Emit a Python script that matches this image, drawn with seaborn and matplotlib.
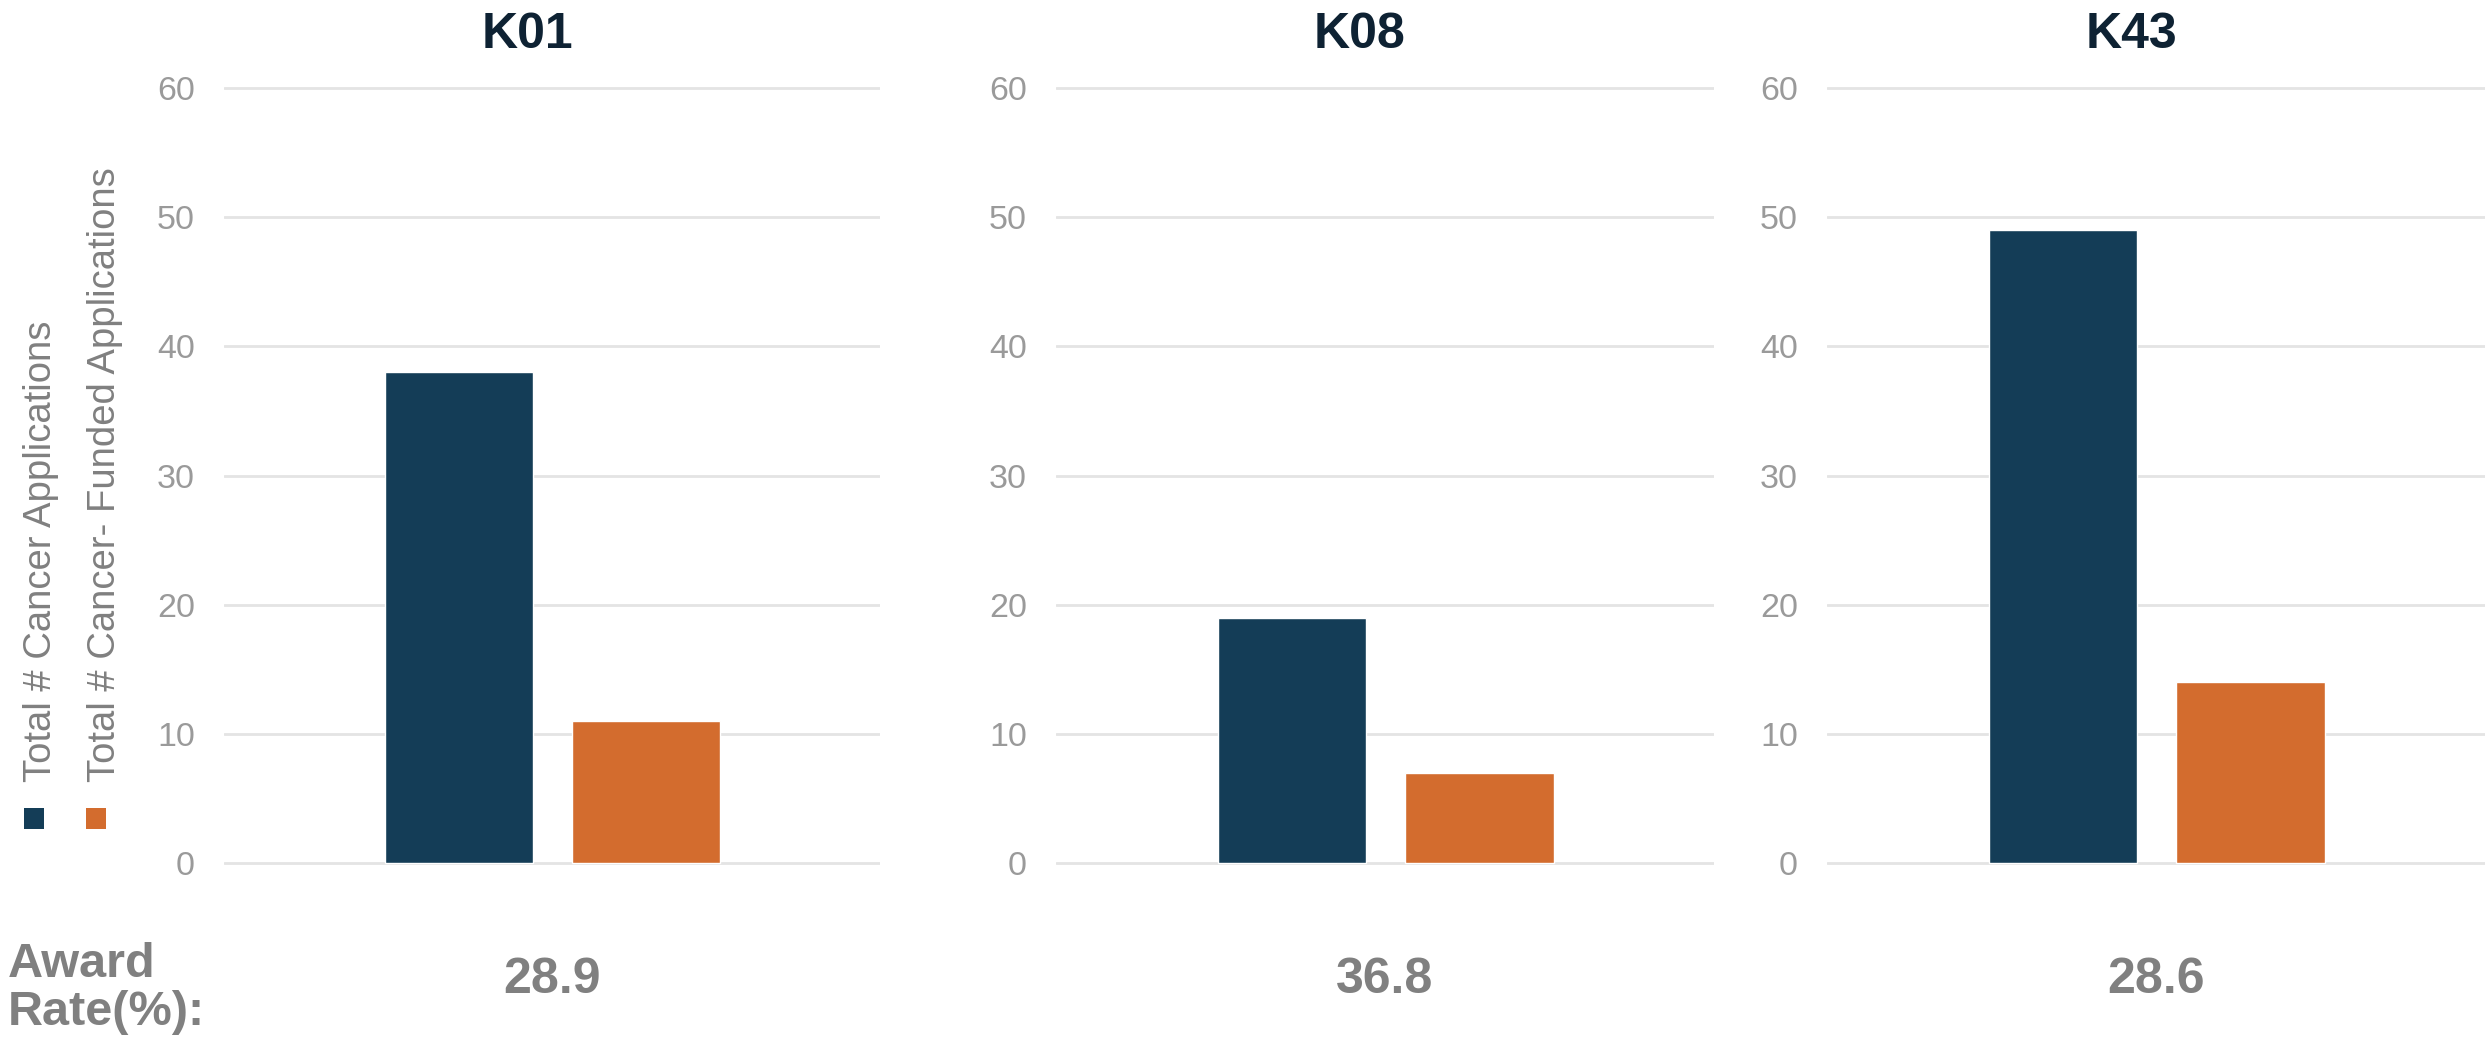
import matplotlib
matplotlib.use("Agg")
import matplotlib.pyplot as plt
from matplotlib.patches import Rectangle
import seaborn as sns
import pandas as pd

# Data
mechanisms = ["K01", "K08", "K43"]
series = ["Total # Cancer Applications", "Total # Cancer- Funded Applications"]
total_apps = [38, 19, 49]
funded_apps = [11, 7, 14]
award_rates = ["28.9", "36.8", "28.6"]
y_ticks = [0, 10, 20, 30, 40, 50, 60]

colors = ["#143d57", "#d36c2e"]
tick_color = "#9a9a9a"
label_color = "#808080"
title_color = "#0e2233"
grid_color = "#e4e4e4"

sns.set_theme(style="white")
plt.rcParams["font.family"] = ["Liberation Sans", "DejaVu Sans"]

W, H = 2491, 1037
fig = plt.figure(figsize=(W / 100, H / 100), dpi=100)

# axes placement in pixels (left, width)
panels_px = [(224, 656), (1056, 658), (1827, 658)]
y_lo, y_hi = -0.3, 60.3
bottom_px, top_px = 170, 953

for i, (left, width) in enumerate(panels_px):
    ax = fig.add_axes([left / W, bottom_px / H, width / W, (top_px - bottom_px) / H])
    df = pd.DataFrame({"series": series, "value": [total_apps[i], funded_apps[i]]})
    sns.barplot(data=df, x="series", y="value", hue="series", palette=colors,
                width=0.79, legend=False, ax=ax, saturation=1, zorder=3)
    ax.set_xlim(-1.257, 2.25)
    ax.set_ylim(y_lo, y_hi)
    ax.set_yticks(y_ticks)
    ax.set_xticks([])
    ax.set_xlabel("")
    ax.set_ylabel("")
    ax.grid(axis="y", color=grid_color, linewidth=2, zorder=0)
    ax.set_axisbelow(True)
    for s in ax.spines.values():
        s.set_visible(False)
    ax.tick_params(axis="y", length=0, pad=21, labelsize=24.5, labelcolor=tick_color)

    cx = (left + width / 2) / W
    fig.text(cx - 25 / W, 0.9537, mechanisms[i], ha="center", va="baseline",
             fontsize=36, fontweight="bold", color=title_color)
    fig.text(cx, 0.0424, award_rates[i], ha="center", va="baseline",
             fontsize=36, fontweight="bold", color=label_color)

# Award rate row label
fig.text(8 / W, 0.0579, "Award", ha="left", va="baseline",
         fontsize=35, fontweight="bold", color=label_color)
fig.text(8 / W, 0.0116, "Rate(%):", ha="left", va="baseline",
         fontsize=35, fontweight="bold", color=label_color)

# Vertical legend on the left
legend_x = [24, 86]
text_x = [41, 105]
for j, name in enumerate(series):
    fig.patches.append(Rectangle((legend_x[j] / W, 208 / H), 20 / W, 21 / H,
                                 transform=fig.transFigure, facecolor=colors[j],
                                 edgecolor="none"))
    fig.text(text_x[j] / W, 255 / H, name, rotation=90, ha="center", va="bottom",
             fontsize=27.5, color=label_color)

fig.savefig("out.png", dpi=100, facecolor="white")
